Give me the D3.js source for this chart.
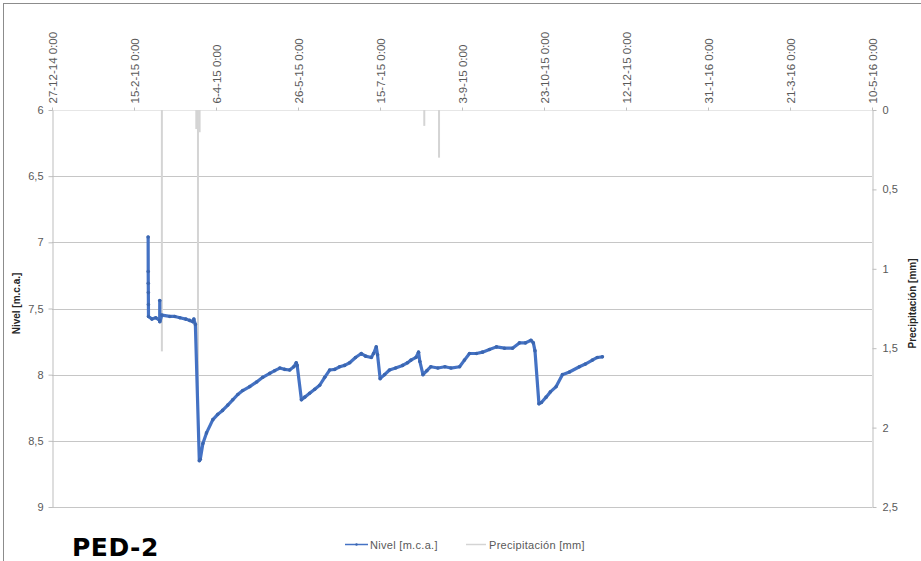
<!DOCTYPE html>
<html>
<head>
<meta charset="utf-8">
<script src="https://cdn.jsdelivr.net/npm/d3@7"></script>
<style>
  html, body { margin: 0; padding: 0; background: #fff; }
  svg { display: block; }
  text { font-family: "Liberation Sans", Arial, sans-serif; }
</style>
</head>
<body>
<svg id="chart" width="921" height="561"></svg>
<script>
// ---- Data ----
const tickDates = ["2014-12-27","2015-02-15","2015-04-06","2015-05-26","2015-07-15","2015-09-03",
                   "2015-10-23","2015-12-12","2016-01-31","2016-03-21","2016-05-10"];
const nivelLeftTicks = [6, 6.5, 7, 7.5, 8, 8.5, 9];
const precipRightTicks = [0, 0.5, 1, 1.5, 2, 2.5];

const nivelDates = [
 "2015-02-23T15:00","2015-02-23T16:00","2015-02-23T17:00","2015-02-23T18:00","2015-02-23T19:00","2015-02-23T20:00",
 "2015-02-25T22:00","2015-02-28T07:00","2015-03-02T16:00","2015-03-02T17:00","2015-03-02T18:00",
 "2015-03-04T00:00","2015-03-08T21:00","2015-03-11T22:00","2015-03-15T00:00","2015-03-18T14:00","2015-03-21T00:00",
 "2015-03-22T22:00","2015-03-23T12:00","2015-03-24T10:00","2015-03-26T20:00","2015-03-27T10:00","2015-03-29T00:00",
 "2015-03-31T05:00","2015-04-04T02:00","2015-04-07T02:00","2015-04-10T00:00","2015-04-13T05:00","2015-04-16T05:00",
 "2015-04-19T07:00","2015-04-22T07:00","2015-04-26T14:00","2015-04-30T19:00","2015-05-04T12:00","2015-05-08T19:00",
 "2015-05-11T19:00","2015-05-14T22:00","2015-05-17T22:00","2015-05-20T22:00","2015-05-23T10:00","2015-05-24T22:00",
 "2015-05-25T12:00","2015-05-28T02:00","2015-05-30T02:00","2015-06-02T02:00","2015-06-05T05:00","2015-06-08T05:00",
 "2015-06-11T07:00","2015-06-14T07:00","2015-06-17T10:00","2015-06-20T10:00","2015-06-23T10:00","2015-06-26T12:00",
 "2015-06-30T02:00","2015-07-03T14:00","2015-07-06T05:00","2015-07-09T17:00","2015-07-11T02:00","2015-07-12T17:00",
 "2015-07-13T12:00","2015-07-15T02:00","2015-07-17T19:00","2015-07-20T19:00","2015-07-24T12:00","2015-07-28T19:00",
 "2015-07-31T19:00","2015-08-02T22:00","2015-08-05T22:00","2015-08-07T12:00","2015-08-08T07:00","2015-08-10T05:00",
 "2015-08-12T14:00","2015-08-15T00:00","2015-08-19T07:00","2015-08-23T14:00","2015-08-27T05:00","2015-09-01T12:00",
 "2015-09-04T12:00","2015-09-07T14:00","2015-09-11T19:00","2015-09-15T12:00","2015-09-19T17:00","2015-09-24T00:00",
 "2015-09-28T22:00","2015-10-03T19:00","2015-10-08T00:00","2015-10-11T17:00","2015-10-15T02:00","2015-10-16T12:00",
 "2015-10-17T12:00","2015-10-19T22:00","2015-10-21T10:00","2015-10-24T07:00","2015-10-26T22:00","2015-10-30T10:00",
 "2015-11-03T05:00","2015-11-07T12:00","2015-11-13T14:00","2015-11-17T05:00","2015-11-21T12:00","2015-11-24T12:00",
 "2015-11-27T14:00"
];
const nivelValues = [
 6.96, 7.22, 7.31, 7.38, 7.47, 7.56,
 7.58, 7.57, 7.59, 7.44, 7.60,
 7.55, 7.56, 7.56, 7.57, 7.58, 7.59,
 7.60, 7.58, 7.62, 8.65, 8.64, 8.52,
 8.44, 8.34, 8.30, 8.27, 8.23, 8.19,
 8.15, 8.12, 8.09, 8.055, 8.02, 7.99,
 7.97, 7.95, 7.96, 7.965, 7.94, 7.91,
 7.93, 8.19, 8.17, 8.14, 8.11, 8.08,
 8.02, 7.965, 7.96, 7.94, 7.93, 7.91,
 7.87, 7.84, 7.86, 7.87, 7.84, 7.79,
 7.85, 8.03, 8.00, 7.965, 7.95, 7.93,
 7.91, 7.89, 7.87, 7.83, 7.90, 8.00,
 7.97, 7.94, 7.95, 7.94, 7.95, 7.94,
 7.89, 7.84, 7.84, 7.83, 7.81, 7.79,
 7.80, 7.80, 7.76, 7.76, 7.74, 7.76,
 7.82, 8.22, 8.21, 8.17, 8.13, 8.09,
 8.00, 7.98, 7.94, 7.92, 7.89, 7.87,
 7.865
];

const precipDates  = ["2015-03-04","2015-03-25","2015-03-26","2015-03-27","2015-08-11","2015-08-20"];
const precipValues = [1.52, 0.12, 1.9, 0.14, 0.1, 0.3];

const legendLabels = ["Nivel [m.c.a.]", "Precipitación [mm]"];

// ---- Drawing ----
const svg = d3.select("#chart");
const parse = s => new Date(s.length > 10 ? s : s + "T00:00");
const comma = d => String(d).replace(".", ",");
const fmtTop = d3.timeFormat("%-d-%-m-%y 0:00");

const L = 52, R = 872, T = 110, B = 507;
const x = d3.scaleTime().domain([parse(tickDates[0]), parse(tickDates[tickDates.length - 1])]).range([L, R]);
const yL = d3.scaleLinear().domain([6, 9]).range([T, B]);
const yR = d3.scaleLinear().domain([0, 2.5]).range([T, B]);

// outer border
svg.append("rect").attr("x", 3.5).attr("y", 3.5).attr("width", 930).attr("height", 570)
  .attr("fill", "none").attr("stroke", "#8c8c8c").attr("stroke-width", 1);

// gridlines
svg.append("g").selectAll("line").data(nivelLeftTicks).join("line")
  .attr("x1", L).attr("x2", R)
  .attr("y1", d => Math.round(yL(d)) + 0.5).attr("y2", d => Math.round(yL(d)) + 0.5)
  .attr("stroke", d => d === 6 ? "#e6e6e6" : "#c6c6c6").attr("stroke-width", 1);

// precipitation bars (hanging from top)
svg.append("g").selectAll("rect").data(precipDates.map((d, i) => ({ d: parse(d), v: precipValues[i] }))).join("rect")
  .attr("x", d => x(d.d) - 1).attr("width", 2)
  .attr("y", yR(0)).attr("height", d => yR(d.v) - yR(0))
  .attr("fill", "#d4d4d4");

// left axis
const gL = svg.append("g").attr("transform", `translate(${L + 0.5},0)`)
  .call(d3.axisLeft(yL).tickValues(nivelLeftTicks).tickFormat(comma).tickSize(4).tickSizeOuter(0).tickPadding(5));
gL.select(".domain").attr("stroke", "#bdbdbd");
gL.selectAll(".tick line").attr("stroke", "#bdbdbd");
gL.selectAll("text").attr("fill", "#595959").style("font-size", "11px");

// right axis
const gR = svg.append("g").attr("transform", `translate(${R + 0.5},0)`)
  .call(d3.axisRight(yR).tickValues(precipRightTicks).tickFormat(comma).tickSize(4).tickSizeOuter(0).tickPadding(6));
gR.select(".domain").attr("stroke", "#bdbdbd");
gR.selectAll(".tick line").attr("stroke", "#bdbdbd");
gR.selectAll("text").attr("fill", "#595959").style("font-size", "11px");

// top axis
const gT = svg.append("g").attr("transform", `translate(0,${T + 0.5})`)
  .call(d3.axisTop(x).tickValues(tickDates.map(parse)).tickFormat(fmtTop).tickSize(3).tickSizeOuter(0));
gT.select(".domain").remove();
gT.selectAll(".tick line").attr("stroke", "#bdbdbd");
gT.selectAll("text")
  .attr("transform", "rotate(-90)").attr("x", 7).attr("y", 0).attr("dy", "0.35em")
  .style("text-anchor", "start").attr("fill", "#595959").style("font-size", "11.5px");

// nivel line
const pts = nivelDates.map((d, i) => ({ d: parse(d), v: nivelValues[i] }));
svg.append("path").datum(pts)
  .attr("fill", "none").attr("stroke", "#4472c4").attr("stroke-width", 3.2)
  .attr("stroke-linejoin", "round").attr("stroke-linecap", "round")
  .attr("d", d3.line().x(d => x(d.d)).y(d => yL(d.v)));
svg.append("g").selectAll("circle").data(pts).join("circle")
  .attr("cx", d => x(d.d)).attr("cy", d => yL(d.v)).attr("r", 1.8).attr("fill", "#3b66b0");

// axis titles
svg.append("text").attr("transform", `translate(20,${(T + B) / 2 - 5}) rotate(-90)`)
  .attr("text-anchor", "middle").style("font-size", "10px").style("font-weight", "bold").attr("fill", "#262626")
  .text("Nivel [m.c.a.]");
svg.append("text").attr("transform", `translate(916,${(T + B) / 2 - 5}) rotate(-90)`)
  .attr("text-anchor", "middle").style("font-size", "10px").style("font-weight", "bold").attr("fill", "#262626")
  .text("Precipitación [mm]");

// legend
const lg = svg.append("g");
lg.append("line").attr("x1", 345).attr("x2", 368).attr("y1", 544.5).attr("y2", 544.5).attr("stroke", "#4472c4").attr("stroke-width", 1.5);
lg.append("circle").attr("cx", 356.5).attr("cy", 544.5).attr("r", 1.2).attr("fill", "#3b66b0");
lg.append("text").attr("x", 370).attr("y", 548.5).style("font-size", "11px").attr("letter-spacing", "0.3px").attr("fill", "#595959").text(legendLabels[0]);
lg.append("line").attr("x1", 466).attr("x2", 486).attr("y1", 544.5).attr("y2", 544.5).attr("stroke", "#d4d4d4").attr("stroke-width", 1.5);
lg.append("text").attr("x", 489).attr("y", 548.5).style("font-size", "11px").attr("letter-spacing", "0.3px").attr("fill", "#595959").text(legendLabels[1]);

// PED-2 label
svg.append("text").attr("x", 72).attr("y", 556)
  .style("font-family", "'DejaVu Sans', Verdana, sans-serif").style("font-size", "25px").style("font-weight", "bold")
  .attr("fill", "#000").attr("letter-spacing", "0.5px").text("PED-2");
</script>
</body>
</html>
